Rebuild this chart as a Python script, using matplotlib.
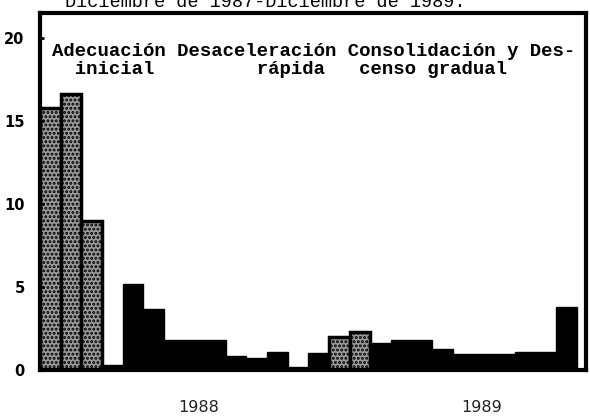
import matplotlib
matplotlib.use("Agg")
import matplotlib.pyplot as plt
import numpy as np

# monthly slots Dec 1987 - Dec 1989 (two short bars mark the breaks between phases)
valores = [15.8, 16.6, 9.0, 0.3, 5.2, 3.7, 1.8, 1.8, 1.8, 0.85, 0.7, 1.1, 0.2,
           1.0, 2.0, 2.3, 1.6, 1.8, 1.8, 1.25, 0.95, 0.95, 0.95, 1.1, 1.1, 3.8]
# which bars look stippled (grey) in the print
punteado = [1, 1, 1, 0, 0, 0, 0, 0, 0, 0, 0, 0, 0,
            0, 1, 1, 0, 0, 0, 0, 0, 0, 0, 0, 0, 0]
y_ticks = [0, 5, 10, 15, 20]
anios = ["1988", "1989"]
anio_pos = [7.2, 20.9]

titulo = "Diciembre de 1987-Diciembre de 1989."
fase_l1 = "Adecuación Desaceleración Consolidación y Des-"
fase_l2 = "  inicial         rápida   censo gradual"

plt.rcParams["hatch.linewidth"] = 1.4

fig = plt.figure(figsize=(5.9, 4.16), dpi=100)
ax = fig.add_axes([40/590, 1-370/416, (586-40)/590, (370-13)/416])

x = np.arange(len(valores))
for i in range(len(valores)):
    if punteado[i]:
        ax.bar(x[i], valores[i], width=1.0, color="#9a9a9a", edgecolor="black",
               hatch="....", linewidth=2.5)
    else:
        ax.bar(x[i], valores[i], width=1.0, color="black", edgecolor="black",
               linewidth=1)

ax.set_xlim(-0.5, 25.95)
ax.set_ylim(0, 21.5)
ax.set_yticks(y_ticks)
ax.set_yticklabels([str(t) for t in y_ticks], fontsize=10.5, fontweight="bold",
                   family="DejaVu Sans")
ax.tick_params(axis="y", length=3, width=2, direction="in", pad=11)
ax.set_xticks([])
for s in ax.spines.values():
    s.set_linewidth(3)
    s.set_color("black")

for a, p in zip(anios, anio_pos):
    ax.text(p, -0.104, a, transform=ax.get_xaxis_transform(), ha="center",
            va="center", fontsize=11.5, color="#222222", family="DejaVu Sans")

fig.text(65/590, 1-7/416, titulo, ha="left", va="baseline", fontsize=13.3,
         family="Liberation Mono")
fig.text(52/590, 1-52/416, fase_l1, ha="left", va="center", fontsize=13.7,
         family="Liberation Mono", fontweight="bold")
fig.text(52/590, 1-69/416, fase_l2, ha="left", va="center", fontsize=13.7,
         family="Liberation Mono", fontweight="bold")

plt.savefig("out.png", dpi=100)
